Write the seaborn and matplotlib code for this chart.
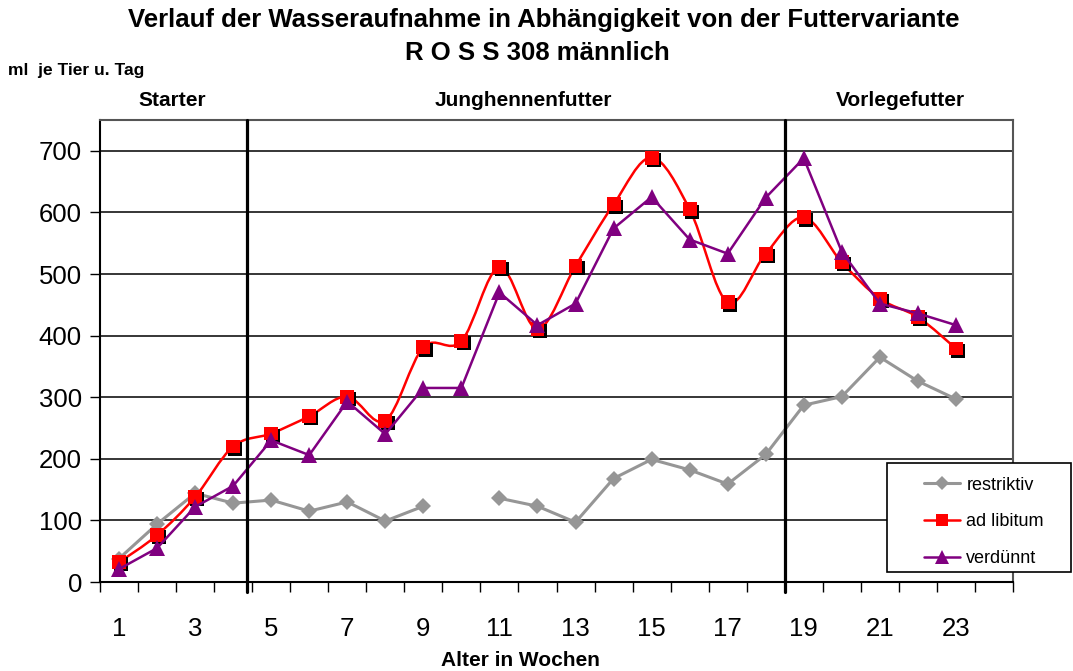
import numpy as np
import pandas as pd
import matplotlib
matplotlib.use("Agg")
import matplotlib.pyplot as plt
import matplotlib.transforms as mtransforms
from matplotlib.path import Path
from matplotlib.patches import PathPatch, Rectangle
from matplotlib.lines import Line2D
import seaborn as sns

# Werte (ml je Tier u. Tag)
wochen = list(range(1, 24))
restriktiv = [38, 94, 144, 128, 133, 115, 130, 99, 123, np.nan, 136, 123, 97,
              168, 199, 182, 159, 207, 287, 301, 365, 326, 297]
ad_libitum = [32, 76, 138, 220, 241, 269, 301, 262, 381, 391, 511, 411, 513,
              613, 689, 605, 454, 533, 592, 519, 460, 430, 379]
verduennt = [21, 55, 122, 156, 230, 206, 293, 240, 315, 315, 470, 417, 452,
             574, 625, 556, 533, 624, 688, 536, 452, 436, 417]
phasen = ["Starter", "Junghennenfutter", "Vorlegefutter"]
phasen_grenzen = [4.37, 18.5]
y_ticks = [0, 100, 200, 300, 400, 500, 600, 700]

sns.set_style("white")
plt.rcParams["font.family"] = ["Liberation Sans", "DejaVu Sans"]
plt.rcParams["text.color"] = "black"
plt.rcParams["xtick.color"] = "black"
plt.rcParams["ytick.color"] = "black"
plt.rcParams["xtick.labelcolor"] = "black"
plt.rcParams["ytick.labelcolor"] = "black"

GRAU = "#969696"
ROT = "#ff0000"
LILA = "#800080"

df = pd.DataFrame({"Woche": wochen, "restriktiv": restriktiv,
                   "ad libitum": ad_libitum, "verdünnt": verduennt})
# Luecke bei restriktiv (Woche 10) -> zwei Abschnitte
df["abschnitt"] = (df["restriktiv"].isna()).cumsum()

fig = plt.figure(figsize=(10.73, 6.71), dpi=100)
ax = fig.add_axes([100/1073, 1-582/671, 913/1073, 462/671])

# Gitter
for y in y_ticks[1:]:
    ax.axhline(y, color="black", lw=1.1, zorder=0)

# restriktiv
sns.lineplot(data=df.dropna(subset=["restriktiv"]), x="Woche", y="restriktiv",
             units="abschnitt", estimator=None, color=GRAU, lw=2.2,
             marker="D", markersize=8, markeredgewidth=0, ax=ax, zorder=3)

# ad libitum: geglaettete Linie (Bezier wie Excel)
pts = np.column_stack([df["Woche"], df["ad libitum"]]).astype(float)
verts = [pts[0]]
codes = [Path.MOVETO]
n = len(pts)
for i in range(n - 1):
    p0 = pts[max(i - 1, 0)]
    p1 = pts[i]
    p2 = pts[i + 1]
    p3 = pts[min(i + 2, n - 1)]
    c1 = p1 + (p2 - p0) / 6
    c2 = p2 - (p3 - p1) / 6
    verts += [c1, c2, p2]
    codes += [Path.CURVE4] * 3
ax.add_patch(PathPatch(Path(verts, codes), facecolor="none", edgecolor=ROT,
                       lw=1.8, zorder=4))
schatten = mtransforms.offset_copy(ax.transData, fig=fig, x=2.2, y=-2.2, units="dots")
ax.plot(df["Woche"], df["ad libitum"], ls="none", marker="s", markersize=10,
        color="black", markeredgewidth=0, transform=schatten, zorder=4)
sns.scatterplot(data=df, x="Woche", y="ad libitum", marker="s", s=100,
                color=ROT, edgecolor="none", ax=ax, zorder=5)

# verduennt
sns.lineplot(data=df, x="Woche", y="verdünnt", color=LILA, lw=1.8,
             marker="^", markersize=12, markeredgewidth=0, ax=ax, zorder=6)

# Phasengrenzen
for xg in phasen_grenzen:
    ax.plot([xg, xg], [-16, 750], color="black", lw=2.3, clip_on=False, zorder=7)

ax.set_xlim(0.5, 24.5)
ax.set_ylim(0, 750)
ax.set_yticks(y_ticks)
ax.set_yticklabels([str(v) for v in y_ticks], fontsize=18.5)
ax.set_xticks(np.arange(0.5, 25, 1))
ax.set_xticklabels([])
ax.set_xticks(wochen[::2], minor=True)
ax.set_xticklabels([str(w) for w in wochen[::2]], minor=True, fontsize=18.5)
ax.tick_params(axis="x", which="major", direction="out", length=7, width=1,
               color="black", bottom=True)
ax.tick_params(axis="x", which="minor", length=0, pad=25)
ax.tick_params(axis="y", direction="out", length=7, width=1, color="black",
               left=True, pad=6)
ax.set_xlabel("")
ax.set_ylabel("")
for side in ["left", "bottom"]:
    ax.spines[side].set_color("black")
    ax.spines[side].set_linewidth(1.5)
for side in ["top", "right"]:
    ax.spines[side].set_color("#555555")
    ax.spines[side].set_linewidth(1.5)

# Texte
fig.text(544/1073, 1-20/671, "Verlauf der Wasseraufnahme in Abhängigkeit von der Futtervariante",
         ha="center", va="center", fontsize=18.5, fontweight="bold")
fig.text(537/1073, 1-53/671, "R O S S 308 männlich",
         ha="center", va="center", fontsize=18.5, fontweight="bold")
fig.text(8/1073, 1-70/671, "ml  je Tier u. Tag", ha="left", va="center",
         fontsize=12.5, fontweight="bold")
for txt, xp in zip(phasen, [172, 523, 900]):
    fig.text(xp/1073, 1-101/671, txt, ha="center", va="center",
             fontsize=15, fontweight="bold")
fig.text(520/1073, 1-660/671, "Alter in Wochen", ha="center", va="center",
         fontsize=15, fontweight="bold")

# Legende
fig.add_artist(Rectangle((887/1073, 1-572/671), 184/1073, 109/671,
                         transform=fig.transFigure, facecolor="white",
                         edgecolor="black", lw=1.2, zorder=5))
handles = [
    Line2D([], [], color=GRAU, lw=2.2, marker="D", markersize=7, markeredgewidth=0),
    Line2D([], [], color=ROT, lw=1.8, marker="s", markersize=8.5, markeredgewidth=0),
    Line2D([], [], color=LILA, lw=1.8, marker="^", markersize=10, markeredgewidth=0),
]
leg = fig.legend(handles, ["restriktiv", "ad libitum", "verdünnt"],
                 loc="center left", bbox_to_anchor=(924/1073, 1-522/671),
                 frameon=False, fontsize=13, handlelength=2.0,
                 handletextpad=0.35, labelspacing=1.1, borderpad=0,
                 borderaxespad=0)
leg.set_zorder(6)

fig.savefig("out.png", dpi=100)
